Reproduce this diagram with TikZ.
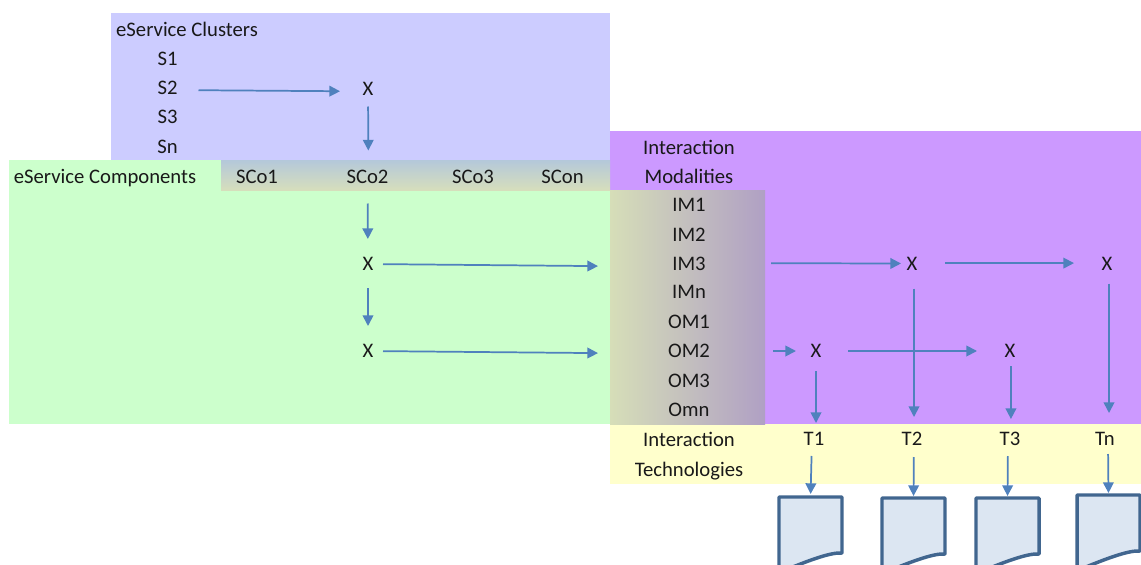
\documentclass[tikz,border=0pt]{standalone}
\usepackage{fontspec}
\setmainfont{Carlito}
\usetikzlibrary{arrows.meta}
\definecolor{clusterblue}{HTML}{CCCCFF}
\definecolor{compgreen}{HTML}{CCFFCC}
\definecolor{modpurple}{HTML}{CC99FF}
\definecolor{techyellow}{HTML}{FFFFCC}
\definecolor{linkblue}{HTML}{4F81BD}
\definecolor{docfill}{HTML}{DCE6F2}
\definecolor{docline}{HTML}{41668F}
\definecolor{striptop}{HTML}{B4C8DA}
\definecolor{stripbot}{HTML}{D6DEBC}
\definecolor{panelleft}{HTML}{D6DEB8}
\definecolor{panelright}{HTML}{B0A0C4}
\tikzset{
    lab/.style={inner sep=0pt,font=\fontsize{15.5pt}{17pt}\selectfont,text=black!90},
    link/.style 2 args={draw=linkblue,line width=1.3pt,-{Triangle[length=8pt,width=8pt]},shorten <=#1*0.75pt,shorten >=#2*0.75pt},
    docpage/.style={draw=docline,fill=docfill,line width=2.6pt,line join=round},
}
\begin{document}
\begin{tikzpicture}[x=0.75pt,y=-0.75pt]
    \useasboundingbox (0,0) rectangle (1141,564);
    % the coloured areas
    \fill[clusterblue] (111,13) rectangle (610,160);
    \fill[compgreen] (9,160) rectangle (610,424);
    \fill[modpurple] (610,131) rectangle (1141,424);
    \fill[techyellow] (610,424) rectangle (1141,484);
    \shade[top color=striptop,bottom color=stripbot] (221,160) rectangle (610,190);
    \shade[left color=panelleft,right color=panelright] (610,190) rectangle (765,424);
    % left and top headers
    \node[lab] (clusters) at (187,29) {eService Clusters};
    \node[lab] (s1) at (167.5,59) {S1};
    \node[lab] (s2) at (167.5,88) {S2};
    \node[lab] (s3) at (167.5,117) {S3};
    \node[lab] (sn) at (167.5,147) {Sn};
    \node[lab] (comps) at (105,178) {eService Components};
    \node[lab] (sco1) at (257,176.5) {SCo1};
    \node[lab] (sco2) at (367.5,176.5) {SCo2};
    \node[lab] (sco3) at (473,176.5) {SCo3};
    \node[lab] (scon) at (562.5,176.5) {SCon};
    \node[lab] (inter) at (689,147) {Interaction};
    \node[lab] (modal) at (689,176) {Modalities};
    \node[lab] (im1) at (689,205) {IM1};
    \node[lab] (im2) at (689,235) {IM2};
    \node[lab] (im3) at (689,264) {IM3};
    \node[lab] (imn) at (689,292) {IMn};
    \node[lab] (om1) at (689,322) {OM1};
    \node[lab] (om2) at (689,351) {OM2};
    \node[lab] (om3) at (689,381) {OM3};
    \node[lab] (omn) at (689,410) {Omn};
    \node[lab] (tinter) at (689,439) {Interaction};
    \node[lab] (techs) at (689,471) {Technologies};
    \node[lab] (t1) at (814,439) {T1};
    \node[lab] (t2) at (912,439) {T2};
    \node[lab] (t3) at (1010,439) {T3};
    \node[lab] (tn) at (1105,439) {Tn};
    % crossings
    \node[lab] (xa) at (368,88.5) {X};
    \node[lab] (xb) at (368,264) {X};
    \node[lab] (xc) at (368,351) {X};
    \node[lab] (xd) at (912,263.5) {X};
    \node[lab] (xe) at (1107,263.5) {X};
    \node[lab] (xf) at (816,351) {X};
    \node[lab] (xg) at (1010,351) {X};
    % documents, cut by the lower edge
    \foreach \name/\px/\py in {doca/779/497,docb/882/498,docc/976/498,docd/1077/495}{
        \coordinate (\name) at ([xshift=31.5*0.75pt]\px*0.75pt,-\py*0.75pt);
        \begin{scope}
            \clip (0,0) rectangle (1141,564);
            \draw[docpage] (\px,\py) -- +(63,0) -- +(63,56)
                .. controls +(-22,-2) and +(-30,20) .. +(0,72) -- cycle;
        \end{scope}
    }
    % connectors
    \draw[link={31}{28}] ([yshift=-1.5pt]s2.center) -- ([yshift=-2.2pt]xa.center);
    \draw[link={18}{26}] (xa.center) -- ([xshift=0.7pt]sco2.center);
    \draw[link={27}{25}] (sco2.center) -- (xb.center);
    \draw[link={24}{25}] (xb.center) -- (xc.center);
    \draw[link={15}{91}] (xb.center) -- ([yshift=-2.2pt]im3.center);
    \draw[link={15}{91}] (xc.center) -- ([yshift=-2.2pt]om2.center);
    \draw[link={82}{11}] ([yshift=0.7pt]im3.center) -- (xd.center);
    \draw[link={33}{33}] ([yshift=0.3pt]xd.center) -- ([yshift=0.3pt]xe.center);
    \draw[link={84}{20}] (om2.center) -- (xf.center);
    \draw[link={32}{33}] (xf.center) -- (xg.center);
    \draw[link={20}{16}] (xf.center) -- ([xshift=1.5pt]t1.center);
    \draw[link={25}{22}] ([xshift=1.5pt]xd.center) -- ([xshift=1.5pt]t2.center);
    \draw[link={15}{20}] ([xshift=0.7pt]xg.center) -- ([xshift=0.7pt]t3.center);
    \draw[link={20}{26}] ([xshift=1.5pt]xe.center) -- ([xshift=3pt]tn.center);
    \draw[link={17}{3}] ([xshift=-1.5pt]t1.center) -- (doca);
    \draw[link={18}{2}] ([xshift=1.5pt]t2.center) -- (docb);
    \draw[link={17}{2}] ([xshift=-1.5pt]t3.center) -- (docc);
    \draw[link={15}{2}] ([xshift=2.2pt]tn.center) -- (docd);
\end{tikzpicture}
\end{document}
